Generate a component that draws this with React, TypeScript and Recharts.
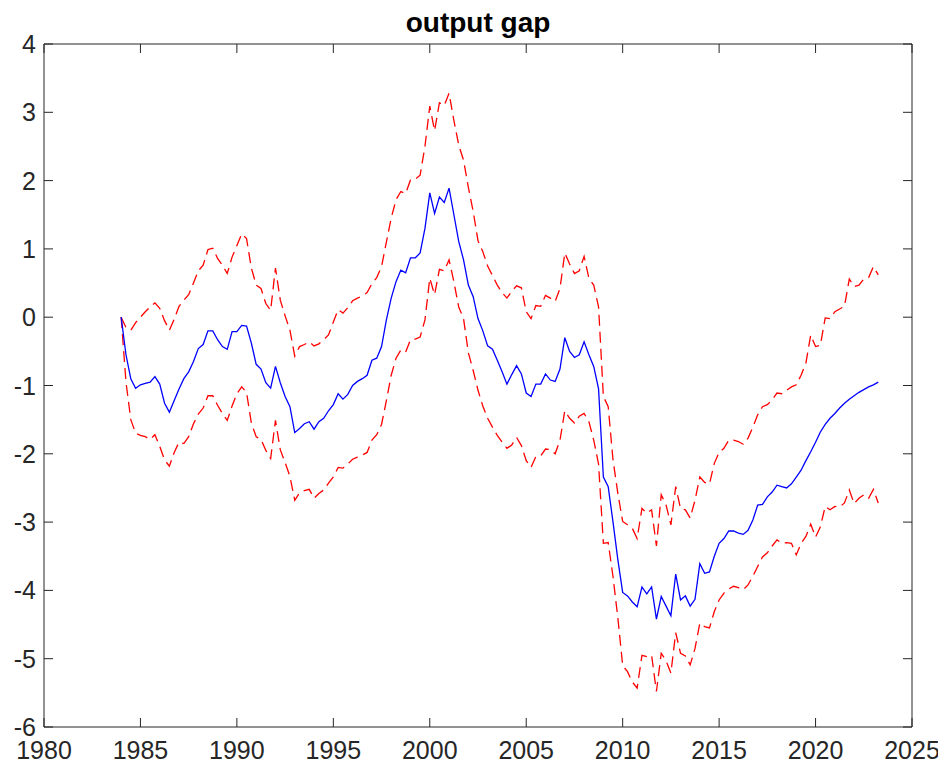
import React from 'react';
import { LineChart, Line, XAxis, YAxis } from 'recharts';

// quarterly observations starting 1984Q1
const startYear = 1984;

const center = [
  0.00, -0.55, -0.90, -1.04, -0.99, -0.97, -0.95, -0.87, -0.98, -1.26, -1.39, -1.22,
  -1.05, -0.90, -0.80, -0.65, -0.46, -0.40, -0.20, -0.20, -0.33, -0.43, -0.47, -0.21,
  -0.21, -0.12, -0.13, -0.38, -0.69, -0.76, -0.96, -1.04, -0.72, -0.96, -1.16, -1.31,
  -1.69, -1.63, -1.56, -1.53, -1.64, -1.53, -1.48, -1.37, -1.28, -1.12, -1.20, -1.13,
  -1.00, -0.94, -0.90, -0.85, -0.63, -0.60, -0.43, -0.04, 0.28, 0.52, 0.69, 0.65,
  0.87, 0.87, 0.94, 1.30, 1.82, 1.52, 1.76, 1.68, 1.89, 1.50, 1.11, 0.84,
  0.47, 0.30, -0.02, -0.20, -0.42, -0.47, -0.63, -0.80, -0.98, -0.84, -0.71, -0.83,
  -1.11, -1.16, -0.98, -0.98, -0.83, -0.92, -0.94, -0.76, -0.30, -0.50, -0.59, -0.55,
  -0.36, -0.55, -0.72, -1.05, -2.34, -2.48, -3.00, -3.55, -4.03, -4.08, -4.17, -4.24,
  -3.95, -4.05, -3.95, -4.42, -4.09, -4.23, -4.37, -3.76, -4.14, -4.08, -4.23, -4.13,
  -3.61, -3.75, -3.73, -3.50, -3.31, -3.24, -3.13, -3.13, -3.16, -3.18, -3.12, -2.97,
  -2.75, -2.74, -2.63, -2.56, -2.46, -2.48, -2.50, -2.44, -2.34, -2.24, -2.10, -1.97,
  -1.83, -1.68, -1.57, -1.48, -1.41, -1.33, -1.26, -1.20, -1.15, -1.10, -1.06, -1.02,
  -0.99, -0.95,
];

const upper = [
  0.00, -0.15, -0.19, -0.08, 0.00, 0.08, 0.15, 0.21, 0.13, -0.05, -0.19, -0.03,
  0.16, 0.25, 0.33, 0.50, 0.68, 0.76, 0.99, 1.01, 0.86, 0.76, 0.64, 0.88,
  1.05, 1.22, 1.15, 0.72, 0.47, 0.42, 0.20, 0.10, 0.72, 0.25, 0.02, -0.19,
  -0.57, -0.43, -0.40, -0.36, -0.42, -0.39, -0.33, -0.26, -0.07, 0.11, 0.06, 0.14,
  0.24, 0.28, 0.31, 0.36, 0.49, 0.58, 0.74, 1.10, 1.45, 1.72, 1.84, 1.81,
  2.01, 2.02, 2.08, 2.50, 3.09, 2.73, 3.14, 3.10, 3.28, 2.88, 2.52, 2.30,
  1.90, 1.55, 1.12, 0.96, 0.75, 0.61, 0.47, 0.36, 0.28, 0.38, 0.46, 0.43,
  0.08, -0.02, 0.17, 0.16, 0.32, 0.28, 0.23, 0.42, 0.94, 0.78, 0.64, 0.68,
  0.89, 0.57, 0.47, 0.15, -1.16, -1.31, -2.09, -2.58, -2.99, -3.04, -3.09, -3.24,
  -2.80, -2.87, -2.82, -3.35, -2.60, -2.75, -3.04, -2.48, -2.80, -2.82, -2.94, -2.68,
  -2.34, -2.42, -2.44, -2.14, -1.98, -1.92, -1.80, -1.80, -1.82, -1.86, -1.77, -1.61,
  -1.43, -1.31, -1.28, -1.21, -1.11, -1.12, -1.07, -1.02, -0.99, -0.85, -0.67, -0.26,
  -0.43, -0.41, -0.01, -0.02, 0.08, 0.12, 0.16, 0.56, 0.45, 0.47, 0.56, 0.58,
  0.74, 0.62,
];

const lower = [
  0.00, -0.95, -1.50, -1.70, -1.73, -1.75, -1.79, -1.72, -1.89, -2.09, -2.18, -1.98,
  -1.83, -1.85, -1.75, -1.56, -1.42, -1.33, -1.15, -1.15, -1.29, -1.41, -1.51, -1.30,
  -1.12, -1.02, -1.10, -1.55, -1.75, -1.79, -1.95, -2.07, -1.51, -1.94, -2.13, -2.33,
  -2.68, -2.57, -2.54, -2.52, -2.65, -2.58, -2.53, -2.43, -2.34, -2.20, -2.21, -2.15,
  -2.08, -2.05, -2.02, -1.98, -1.80, -1.72, -1.57, -1.22, -0.85, -0.60, -0.48, -0.51,
  -0.33, -0.32, -0.29, -0.04, 0.57, 0.33, 0.70, 0.68, 0.84, 0.52, 0.15, -0.02,
  -0.52, -0.78, -1.07, -1.30, -1.48, -1.61, -1.73, -1.83, -1.92, -1.87, -1.76, -1.88,
  -2.10, -2.20, -2.04, -2.03, -1.93, -1.94, -2.00, -1.80, -1.37, -1.48, -1.55, -1.45,
  -1.41, -1.53, -1.80, -2.15, -3.31, -3.30, -3.80, -4.40, -5.10, -5.19, -5.34, -5.43,
  -4.95, -4.97, -4.95, -5.48, -4.92, -5.03, -5.21, -4.62, -4.92, -4.96, -5.09, -4.85,
  -4.48, -4.53, -4.55, -4.31, -4.14, -4.04, -3.98, -3.94, -3.96, -3.99, -3.92, -3.79,
  -3.65, -3.51, -3.45, -3.35, -3.26, -3.31, -3.30, -3.31, -3.48, -3.31, -3.21, -3.03,
  -3.22, -3.07, -2.77, -2.82, -2.77, -2.78, -2.72, -2.53, -2.73, -2.65, -2.60, -2.65,
  -2.52, -2.72,
];

const xTicks = [1980, 1985, 1990, 1995, 2000, 2005, 2010, 2015, 2020, 2025];
const yTicks = [-6, -5, -4, -3, -2, -1, 0, 1, 2, 3, 4];

const data = center.map((c, i) => ({
  t: startYear + i / 4,
  center: c,
  upper: upper[i],
  lower: lower[i],
}));

const FONT = "'Liberation Sans', Arial, Helvetica, sans-serif";
const AX = '#262626';
const TICK_LEN = 9;
const LABEL_SIZE = 25;
const X_DOMAIN: [number, number] = [1980, 2025];
const Y_DOMAIN: [number, number] = [-6, 4];

const BottomTick = (props: any) => {
  const { x, y, payload } = props;
  return (
    <g>
      <line x1={x} y1={y} x2={x} y2={y - TICK_LEN} stroke={AX} strokeWidth={1} />
      <text x={x} y={y + 32} textAnchor="middle" fill={AX} fontSize={LABEL_SIZE} fontFamily={FONT}>
        {payload.value}
      </text>
    </g>
  );
};

const LeftTick = (props: any) => {
  const { x, y, payload } = props;
  return (
    <g>
      <line x1={x} y1={y} x2={x + TICK_LEN} y2={y} stroke={AX} strokeWidth={1} />
      <text x={x - 8} y={y + 9} textAnchor="end" fill={AX} fontSize={LABEL_SIZE} fontFamily={FONT}>
        {payload.value}
      </text>
    </g>
  );
};

const TopTick = (props: any) => {
  const { x, y } = props;
  return <line x1={x} y1={y} x2={x} y2={y + TICK_LEN} stroke={AX} strokeWidth={1} />;
};

const RightTick = (props: any) => {
  const { x, y } = props;
  return <line x1={x} y1={y} x2={x - TICK_LEN} y2={y} stroke={AX} strokeWidth={1} />;
};

export default function App() {
  return (
    <div style={{ position: 'relative', width: 938, height: 760, background: '#fff' }}>
      <div
        style={{
          position: 'absolute',
          top: 0,
          left: 36,
          width: 868,
          textAlign: 'center',
          fontFamily: FONT,
          fontWeight: 'bold',
          fontSize: 28,
          lineHeight: '30px',
          color: '#000',
        }}
      >
        output gap
      </div>
      <LineChart width={938} height={760} data={data} margin={{ top: 36, right: 34, bottom: 0, left: 0 }}>
        <XAxis
          xAxisId="b"
          dataKey="t"
          type="number"
          orientation="bottom"
          domain={X_DOMAIN}
          ticks={xTicks}
          interval={0}
          allowDataOverflow
          height={41}
          tickSize={0}
          tickMargin={0}
          tickLine={false}
          stroke={AX}
          tick={BottomTick}
        />
        <YAxis
          yAxisId="l"
          type="number"
          domain={Y_DOMAIN}
          ticks={yTicks}
          interval={0}
          allowDataOverflow
          width={36}
          tickSize={0}
          tickMargin={0}
          tickLine={false}
          stroke={AX}
          tick={LeftTick}
        />
        <XAxis
          xAxisId="t"
          dataKey="t"
          type="number"
          orientation="top"
          mirror
          domain={X_DOMAIN}
          ticks={xTicks}
          interval={0}
          allowDataOverflow
          tickSize={0}
          tickMargin={0}
          tickLine={false}
          stroke={AX}
          tick={TopTick}
        />
        <YAxis
          yAxisId="r"
          type="number"
          orientation="right"
          mirror
          domain={Y_DOMAIN}
          ticks={yTicks}
          interval={0}
          allowDataOverflow
          tickSize={0}
          tickMargin={0}
          tickLine={false}
          stroke={AX}
          tick={RightTick}
        />
        {/* invisible series binding the top/right frame axes */}
        <Line
          xAxisId="t"
          yAxisId="r"
          type="linear"
          dataKey="center"
          stroke="none"
          strokeOpacity={0}
          dot={false}
          activeDot={false}
          isAnimationActive={false}
        />
        <Line
          xAxisId="b"
          yAxisId="l"
          type="linear"
          dataKey="upper"
          stroke="#ff0000"
          strokeWidth={1.3}
          strokeDasharray="11 6"
          dot={false}
          isAnimationActive={false}
        />
        <Line
          xAxisId="b"
          yAxisId="l"
          type="linear"
          dataKey="lower"
          stroke="#ff0000"
          strokeWidth={1.3}
          strokeDasharray="11 6"
          dot={false}
          isAnimationActive={false}
        />
        <Line
          xAxisId="b"
          yAxisId="l"
          type="linear"
          dataKey="center"
          stroke="#0000ff"
          strokeWidth={1.3}
          dot={false}
          isAnimationActive={false}
        />
      </LineChart>
    </div>
  );
}
